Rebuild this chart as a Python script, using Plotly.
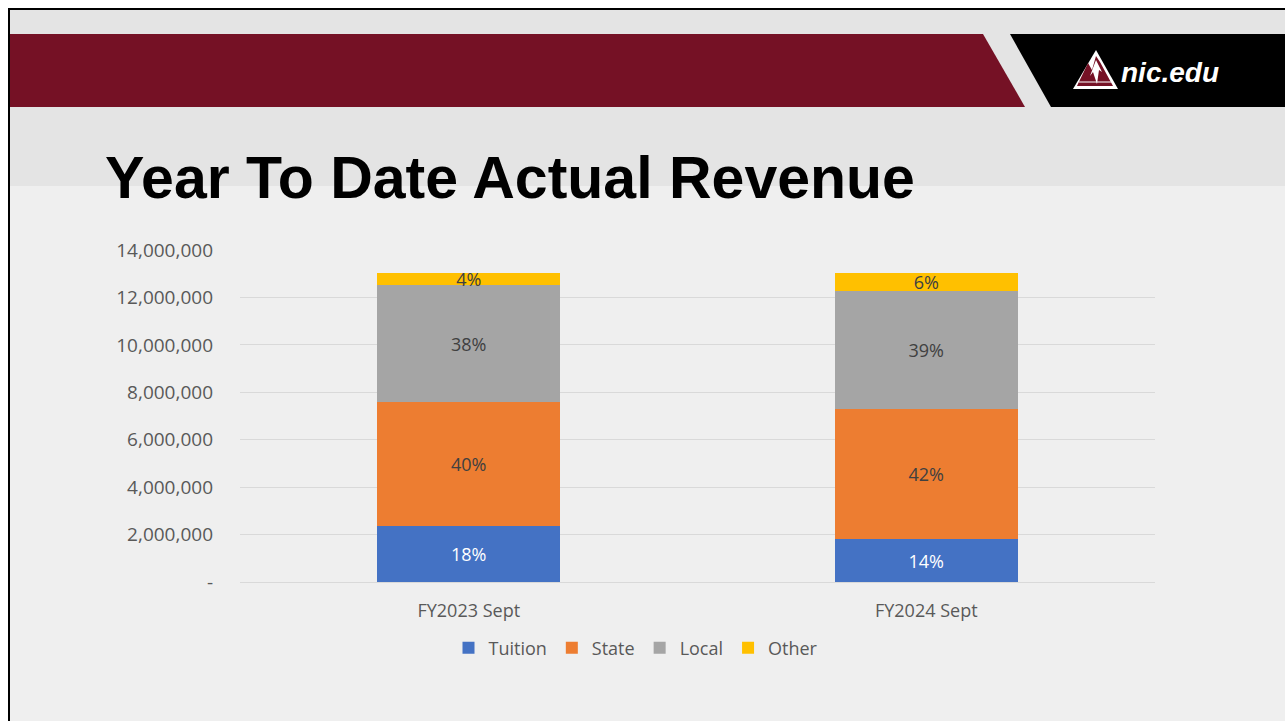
import plotly.graph_objects as go

# ---- data ----
categories = ["FY2023 Sept", "FY2024 Sept"]
series_names = ["Tuition", "State", "Local", "Other"]
tuition = [2360000, 1810000]
state = [5230000, 5480000]
local = [4930000, 4980000]
other = [510000, 760000]
tuition_pct = ["18%", "14%"]
state_pct = ["40%", "42%"]
local_pct = ["38%", "39%"]
other_pct = ["4%", "6%"]
ytick_vals = [0, 2000000, 4000000, 6000000, 8000000, 10000000, 12000000, 14000000]
ytick_text = ["-", "2,000,000", "4,000,000", "6,000,000", "8,000,000",
              "10,000,000", "12,000,000", "14,000,000"]

colors = ["#4472C4", "#ED7D31", "#A5A5A5", "#FFC000"]
text_colors = ["#FFFFFF", "#404040", "#404040", "#404040"]
values = [tuition, state, local, other]
labels = [tuition_pct, state_pct, local_pct, other_pct]

W, H = 1285, 721
L, R, T, B = 240, 1155, 250, 582
FONT = "Open Sans, Noto Sans, sans-serif"


def px(x):
    return (x - L) / (R - L)


def py(y):
    return (B - y) / (B - T)


def path(points):
    s = "M " + " L ".join(f"{px(x):.5f},{py(y):.5f}" for x, y in points) + " Z"
    return s


fig = go.Figure()
for name, vals, lab, col, tcol in zip(series_names, values, labels, colors, text_colors):
    fig.add_trace(go.Bar(
        name=name, x=categories, y=vals, text=lab,
        textposition="inside", insidetextanchor="middle", textangle=0,
        insidetextfont=dict(color=tcol, size=18, family=FONT),
        marker=dict(color=col, line=dict(width=0)),
        hoverinfo="skip",
    ))

shapes = []
# slide background with black left/top border
shapes.append(dict(type="rect", xref="paper", yref="paper", layer="below",
                   x0=px(9), x1=px(1290), y0=py(8), y1=py(730),
                   fillcolor="#EFEFEF", line=dict(width=0)))
shapes.append(dict(type="rect", xref="paper", yref="paper", layer="below",
                   x0=px(10), x1=px(1290), y0=py(10), y1=py(186),
                   fillcolor="#E4E4E4", line=dict(width=0)))
shapes.append(dict(type="line", xref="paper", yref="paper", layer="below",
                   x0=px(9), x1=px(1290), y0=py(9), y1=py(9),
                   line=dict(color="#000000", width=2)))
shapes.append(dict(type="line", xref="paper", yref="paper", layer="below",
                   x0=px(9), x1=px(9), y0=py(8), y1=py(730),
                   line=dict(color="#000000", width=2)))
# maroon banner
shapes.append(dict(type="path", xref="paper", yref="paper", layer="below",
                   path=path([(10, 34), (983, 34), (1025, 107), (10, 107)]),
                   fillcolor="#751125", line=dict(width=0)))
# black logo block
shapes.append(dict(type="path", xref="paper", yref="paper", layer="below",
                   path=path([(1010, 34), (1290, 34), (1290, 107), (1051, 107)]),
                   fillcolor="#000000", line=dict(width=0)))
# logo mountain
shapes.append(dict(type="path", xref="paper", yref="paper", layer="below",
                   path=path([(1096, 50), (1118, 89), (1073, 89)]),
                   fillcolor="#FFFFFF", line=dict(width=0)))
shapes.append(dict(type="path", xref="paper", yref="paper", layer="below",
                   path=path([(1088, 63), (1092, 70), (1096, 56), (1100, 62), (1113, 86), (1077, 86)]),
                   fillcolor="#751125", line=dict(width=0)))
shapes.append(dict(type="path", xref="paper", yref="paper", layer="below",
                   path=path([(1096, 60), (1102, 72), (1099, 70), (1097, 84), (1093, 72), (1090, 76)]),
                   fillcolor="#FFFFFF", line=dict(width=0)))
shapes.append(dict(type="line", xref="paper", yref="paper", layer="below",
                   x0=px(1079), x1=px(1111), y0=py(82), y1=py(82),
                   line=dict(color="#FFFFFF", width=1)))

annotations = [
    dict(text="<b>Year To Date Actual Revenue</b>", xref="paper", yref="paper",
         x=px(103), y=py(178), xanchor="left", yanchor="middle", showarrow=False,
         font=dict(family="Liberation Sans, Arial, sans-serif", size=59, color="#000000")),
    dict(text="<b><i>nic.edu</i></b>", xref="paper", yref="paper",
         x=px(1119), y=py(72), xanchor="left", yanchor="middle", showarrow=False,
         font=dict(family="Liberation Sans, Arial, sans-serif", size=28, color="#FFFFFF")),
]

fig.update_layout(
    width=W, height=H,
    margin=dict(l=L, r=W - R, t=T, b=H - B, pad=0),
    paper_bgcolor="#FFFFFF", plot_bgcolor="rgba(0,0,0,0)",
    barmode="stack", bargap=0.6,
    font=dict(family=FONT, size=18, color="#595959"),
    uniformtext=dict(minsize=18, mode="show"),
    shapes=shapes, annotations=annotations,
    showlegend=True,
    legend=dict(orientation="h", x=px(636), y=py(648), xanchor="center", yanchor="middle",
                font=dict(size=18, color="#595959", family=FONT), bgcolor="rgba(0,0,0,0)",
                traceorder="normal", itemwidth=30, tracegroupgap=0),
    xaxis=dict(showgrid=False, showline=False, ticks="", ticklabelstandoff=16,
               tickfont=dict(size=18, color="#595959")),
    yaxis=dict(range=[0, 14000000], tickvals=ytick_vals, ticktext=ytick_text,
               showgrid=True, gridcolor="#D9D9D9", gridwidth=1,
               zeroline=True, zerolinecolor="#D9D9D9", zerolinewidth=1,
               showline=False, ticks="", ticklabelstandoff=26,
               tickfont=dict(size=19, color="#595959")),
)

fig.write_html("out.html", config={"displayModeBar": False},
               post_script="document.body.style.margin='0';document.body.style.overflow='hidden';")
